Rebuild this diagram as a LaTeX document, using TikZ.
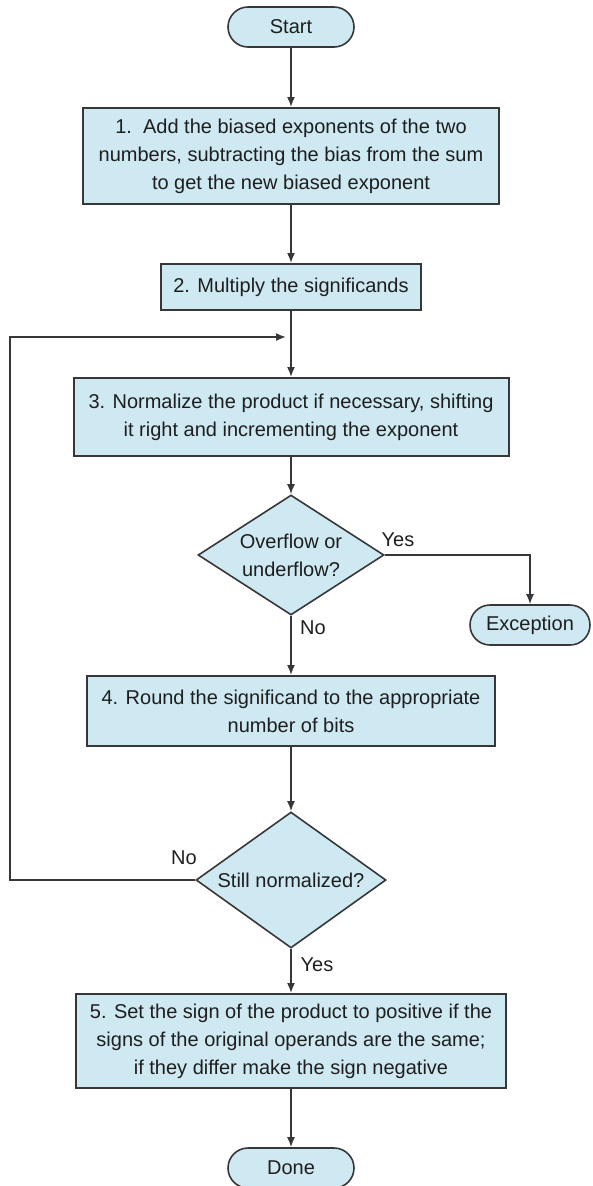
\documentclass[tikz,border=0pt]{standalone}
\usepackage{fontspec}
\setmainfont{Liberation Sans}
\usetikzlibrary{arrows.meta,shapes.geometric,shapes.misc}
\definecolor{boxfill}{RGB}{207,233,242}
\definecolor{linecol}{RGB}{55,55,55}
\definecolor{txtcol}{RGB}{30,30,30}
\begin{document}
\begin{tikzpicture}[x=1pt,y=-1pt,
  every node/.style={font=\fontsize{20}{28}\selectfont, text=txtcol},
  procbox/.style={draw=linecol, line width=2pt, fill=boxfill, rectangle, align=center, inner sep=0pt},
  pill/.style={draw=linecol, line width=1.6pt, fill=boxfill, rounded rectangle, minimum width=126pt, minimum height=40pt, inner sep=0pt},
  decision/.style={draw=linecol, line width=1.6pt, fill=boxfill, diamond, align=center, inner sep=0pt},
  conn/.style={draw=linecol, line width=1.6pt},
  arr/.style={conn, -{Latex[length=10pt,width=8pt]}},
  lbl/.style={inner sep=0pt}
]
\useasboundingbox (0,0) rectangle (592,1186);

\node[pill] (start) at (291,27) {Start};
\node[procbox, minimum width=416pt, minimum height=96pt] (b1) at (291,156)
  {1.\ \ Add the biased exponents of the two\\numbers, subtracting the bias from the sum\\to get the new biased exponent};
\node[procbox, minimum width=260pt, minimum height=46pt] (b2) at (291,287) {2. Multiply the significands};
\node[procbox, minimum width=435pt, minimum height=78pt] (b3) at (291,417)
  {3. Normalize the product if necessary, shifting\\it right and incrementing the exponent};
\node[decision, minimum width=186pt, minimum height=120pt, aspect=1.55] (d1) at (291,555)
  {Overflow or\\underflow?};
\node[pill, minimum width=120pt] (exc) at (530,625) {Exception};
\node[procbox, minimum width=408pt, minimum height=70pt] (b4) at (291,711)
  {4. Round the significand to the appropriate\\number of bits};
\node[decision, minimum width=190pt, minimum height=136pt, aspect=1.4] (d2) at (291,880)
  {Still normalized?};
\node[procbox, minimum width=430pt, minimum height=94pt] (b5) at (291,1041)
  {5. Set the sign of the product to positive if the\\signs of the original operands are the same;\\if they differ make the sign negative};
\node[pill] (done) at (291,1168) {Done};

\coordinate (merge) at (286,337);
\coordinate (loopb) at (10,880);
\coordinate (loopt) at (10,337);
\coordinate (yescorner) at (exc.north |- d1.east);

\node[lbl] (yes1) at (398,540) {Yes};
\node[lbl] (no1) at (313,628) {No};
\node[lbl] (no2) at (184,858) {No};
\node[lbl] (yes2) at (317,965) {Yes};

\draw[arr] (start) -- (b1);
\draw[arr] (b1) -- (b2);
\draw[arr] (b2) -- (b3);
\draw[arr] (b3) -- (d1);
\draw[arr] (d1.east) -- (yescorner) -- (exc.north);
\draw[arr] (d1) -- (b4);
\draw[arr] (b4) -- (d2);
\draw[arr] (d2.west) -- (loopb) -- (loopt) -- (merge);
\draw[arr] (d2) -- (b5);
\draw[arr] (b5) -- (done);
\end{tikzpicture}
\end{document}
